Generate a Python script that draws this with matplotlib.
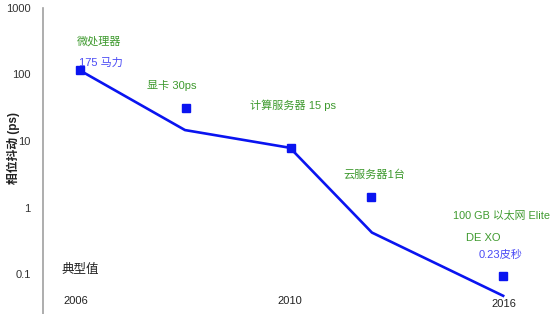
import matplotlib
matplotlib.use("Agg")
import matplotlib.pyplot as plt

plt.rcParams['font.family'] = ['Liberation Sans', 'Noto Sans CJK SC', 'DejaVu Sans']

# 趋势线（位置: 0=2006, 2=2010, 4=2016 附近）
line_x = [0, 1, 2, 2.78, 4.03]
line_y = [115, 14.6, 7.9, 0.42, 0.047]

# 各器件的相位抖动
pt_x = [0, 1.01, 2.01, 2.77, 4.03]
pt_y = [115, 31, 7.9, 1.45, 0.094]

year_labels = ['2006', '2010', '2016']
year_px = [(76, 301), (290, 301), (504, 304)]

green = '#3f9a2f'
blue_txt = '#4a4af5'
notes = [
    ('微处理器', 77, 41, green, 8),
    ('175 马力', 79, 63, blue_txt, 8),
    ('显卡 30ps', 147, 85, green, 8),
    ('计算服务器 15 ps', 250, 105, green, 8),
    ('云服务器1台', 343, 174, green, 8),
    ('100 GB 以太网 Elite', 453, 216, green, 7.8),
    ('DE XO', 466, 238, green, 8),
    ('0.23皮秒', 479, 255, blue_txt, 8),
    ('典型值', 62, 270, '#222222', 9),
]

W, H = 554, 314
fig = plt.figure(figsize=(W / 100, H / 100), dpi=100)
ax = fig.add_axes([43 / W, 0, 1 - 43 / W, (H - 8) / H])

ax.plot(line_x, line_y, color='#0a14f0', lw=1.9, zorder=2)
ax.plot(pt_x, pt_y, 's', color='#0a14f0', ms=5.5, lw=0, zorder=3)

ax.set_yscale('log')
ax.set_ylim(10 ** (-1 - 40 / 66.5), 1000)
ax.set_xlim(-37 / 105, (W - 80) / 105)
ax.set_yticks([0.1, 1, 10, 100, 1000])
ax.set_yticklabels(['0.1', '1', '10', '100', '1000'])
ax.minorticks_off()
ax.tick_params(axis='y', length=0, pad=9, labelsize=8, labelcolor='#333333')
ax.set_xticks([])
for s in ['top', 'right', 'bottom']:
    ax.spines[s].set_visible(False)
ax.spines['left'].set_color('#a0a0a0')
ax.spines['left'].set_linewidth(1.2)

fig.text(13 / W, 1 - 148 / H, '相位抖动 (ps)', rotation=90, ha='center', va='center',
         fontsize=8.5, fontweight='bold', color='#222222')

for t, px, py, c, fs in notes:
    fig.text(px / W, 1 - py / H, t, ha='left', va='center', fontsize=fs, color=c)

for t, (px, py) in zip(year_labels, year_px):
    fig.text(px / W, 1 - py / H, t, ha='center', va='center', fontsize=8, color='#222222')

fig.savefig('out.png', dpi=100)
